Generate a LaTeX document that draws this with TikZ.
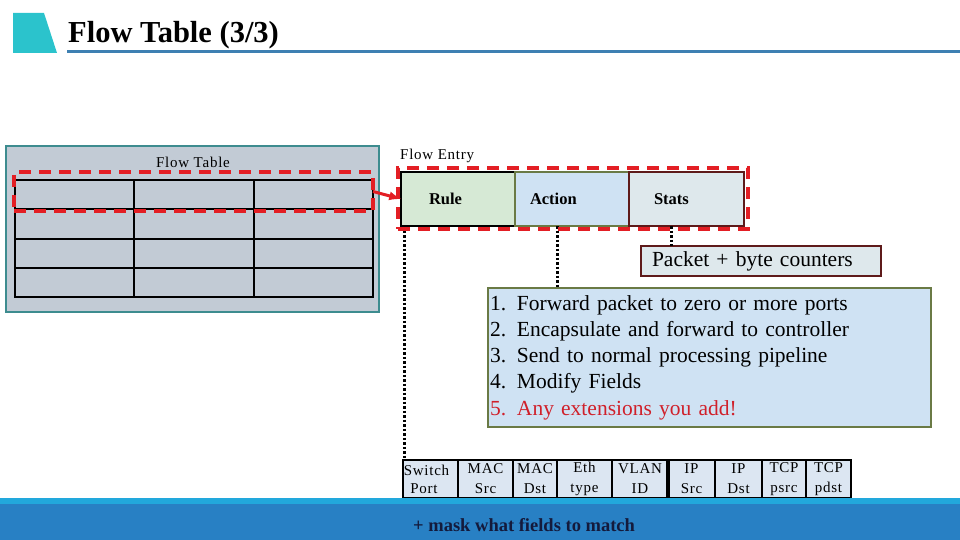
\documentclass[tikz,border=0pt]{standalone}
\usepackage{fontspec}
\setmainfont{Liberation Serif}
\newfontfamily\spacedfont[LetterSpace=5]{Liberation Serif}
\usetikzlibrary{positioning,calc}
\definecolor{teal1}{HTML}{2BC3CC}
\definecolor{titleline}{HTML}{3E80B2}
\definecolor{tablefill}{HTML}{C2CBD5}
\definecolor{tableedge}{HTML}{3D8C8F}
\definecolor{selred}{HTML}{E31E24}
\definecolor{rulefill}{HTML}{D6E9D5}
\definecolor{actfill}{HTML}{CFE2F3}
\definecolor{actedge}{HTML}{6A7A45}
\definecolor{statfill}{HTML}{DEE8EC}
\definecolor{statedge}{HTML}{5E1A1A}
\definecolor{fieldfill}{HTML}{DCE6F2}
\definecolor{bandlight}{HTML}{22A8DC}
\definecolor{banddark}{HTML}{2880C4}
\definecolor{masktext}{HTML}{141A3C}
\definecolor{extred}{HTML}{D0202A}
\tikzset{
  box/.style={anchor=north west, inner sep=0pt, outer sep=0pt},
  gridcell/.style={box, draw=black, line width=2pt, minimum width=119.3pt, minimum height=29.25pt},
  entrybox/.style={box, line width=2pt, minimum height=54pt, align=left,
    font=\fontsize{16.5}{18}\selectfont\bfseries},
  redsel/.style={box, draw=selred, line width=4.5pt, dash pattern=on 12pt off 8pt},
  linkdots/.style={line width=3pt, dash pattern=on 2.5pt off 2pt},
  field/.style={box, draw=black, fill=fieldfill, line width=2pt, minimum height=38pt,
    align=center, font=\spacedfont\fontsize{15}{20}\selectfont}
}
\begin{document}
\begin{tikzpicture}[x=1pt,y=-1pt]
\useasboundingbox (0,0) rectangle (960,540);
% title bar
\fill[teal1] (13,13) -- (44,13) -- (57,53) -- (13,53) -- cycle;
\draw[titleline, line width=3pt] (67,52) -- (960,52);
\node[anchor=base west, inner sep=0pt, font=\fontsize{30.5}{34}\selectfont\bfseries] (title) at (68,43) {Flow Table (3/3)};

% flow table
\node[box, draw=tableedge, fill=tablefill, line width=2pt, minimum width=373pt, minimum height=166pt] (ftable) at (6,146) {};
\node[font=\spacedfont\fontsize{15}{17}\selectfont] (ftlabel) at (193,162) {Flow Table};
\foreach \r in {0,...,3}
  \foreach \c in {0,1,2}
    \node[gridcell] (g\r\c) at (15+119.3*\c, 180+29.25*\r) {};
\node[redsel, minimum width=359pt, minimum height=39pt] (rowsel) at (14,172) {};

% flow entry
\node[anchor=base west, inner sep=0pt, font=\spacedfont\fontsize{15}{17}\selectfont] (entrylabel) at (400,160) {Flow Entry};
\node[entrybox, draw=black, fill=rulefill, minimum width=114pt, inner xsep=28pt, text width=58pt] (rule) at (401,172) {Rule};
\node[entrybox, draw=actedge, fill=actfill, minimum width=114pt, inner xsep=15pt, text width=84pt] (action) at (rule.north east) {Action};
\node[entrybox, draw=statedge, fill=statfill, minimum width=115pt, inner xsep=25pt, text width=65pt] (stats) at (action.north east) {Stats};

% packet counters
\node[box, draw=statedge, fill=statfill, line width=2pt, minimum width=240pt, minimum height=30pt,
  inner xsep=11pt, text width=218pt, align=left, font=\fontsize{21.5}{24}\selectfont] (counters) at (641,246) {Packet + byte counters};

% action list
\node[box, draw=actedge, fill=actfill, line width=2pt, minimum width=443pt, minimum height=139pt,
  inner xsep=2pt, text width=439pt, align=left, font=\fontsize{21.5}{26.25}\selectfont] (actlist) at (488,288)
  {\makebox[27pt][l]{1.}Forward packet to zero or more ports\\
   \makebox[27pt][l]{2.}Encapsulate and forward to controller\\
   \makebox[27pt][l]{3.}Send to normal processing pipeline\\
   \makebox[27pt][l]{4.}Modify Fields\\
   \textcolor{extred}{\makebox[27pt][l]{5.}Any extensions you add!}};

% header fields
\foreach \x/\w/\nm/\txt in {403/55/fport/{\hspace*{-4pt}Switch\hspace*{4pt}\\[-2pt]\hspace*{-13pt}Port},
    458/55/fmacsrc/{MAC\\Src}, 513/44/fmacdst/{MAC\\Dst}, 557/55/fethtype/{Eth\\type},
    612/56/fvlan/{VLAN\\ID}, 668/47/fipsrc/{IP\\Src}, 715/47/fipdst/{IP\\Dst},
    762/44/ftcpsrc/{TCP\\psrc}, 806/45/ftcpdst/{TCP\\pdst}}
  \node[field, minimum width=\w pt] (\nm) at (\x,460) {\txt};
\draw[line width=4pt] (fipsrc.north west) -- (fipsrc.south west);

% links
\coordinate (rulefoot) at ([xshift=-54pt]rule.south);
\coordinate (actfoot) at ([xshift=-15pt]action.south);
\coordinate (statfoot) at ([xshift=-15pt]stats.south);
\draw[linkdots] (rulefoot) -- (rulefoot |- fport.north);
\draw[linkdots] (actfoot) -- (actfoot |- actlist.north);
\draw[linkdots] (statfoot) -- (statfoot |- counters.north);
\node[redsel, minimum width=350pt, minimum height=61pt] (entrysel) at (398,168) {};
\draw[selred, line width=3pt, -latex] (rowsel.east) -- (rule.west);

% bottom band
\fill[bandlight] (0,498) rectangle (960,504);
\fill[banddark] (0,504) rectangle (960,540);
\node[anchor=base west, inner sep=0pt, text=masktext, font=\fontsize{18.5}{20}\selectfont\bfseries] (mask) at (413,531) {+ mask what fields to match};
\end{tikzpicture}
\end{document}
